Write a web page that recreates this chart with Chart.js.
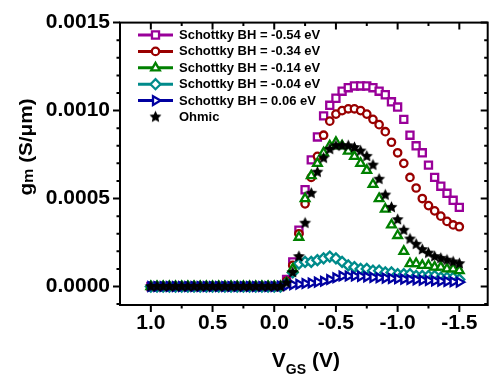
<!DOCTYPE html>
<html>
<head>
<meta charset="utf-8">
<script src="https://cdn.jsdelivr.net/npm/chart.js@4/dist/chart.umd.min.js"></script>
<style>
  body { margin: 0; background: #fff; }
  #wrap { width: 495px; height: 376px; }
</style>
</head>
<body>
<div id="wrap"><canvas id="gmChart" width="495" height="376"></canvas></div>
<script>
// gate voltage sweep, 1.0 V down to -1.5 V in 0.05 V steps
const vgs = [1.0, 0.95, 0.9, 0.85, 0.8, 0.75, 0.7, 0.65, 0.6, 0.55, 0.5, 0.45, 0.4, 0.35, 0.3, 0.25, 0.2, 0.15, 0.1, 0.05,
             0.0, -0.05, -0.1, -0.15, -0.2, -0.25, -0.3, -0.35, -0.4, -0.45, -0.5, -0.55, -0.6, -0.65, -0.7, -0.75,
             -0.8, -0.85, -0.9, -0.95, -1.0, -1.05, -1.1, -1.15, -1.2, -1.25, -1.3, -1.35, -1.4, -1.45, -1.5];

const seriesNames = ['Schottky BH = -0.54 eV', 'Schottky BH = -0.34 eV', 'Schottky BH = -0.14 eV',
                     'Schottky BH = -0.04 eV', 'Schottky BH = 0.06 eV', 'Ohmic'];

const gmBH054 = [0, 0, 0, 0, 0, 0, 0, 0, 0, 0, 0, 0, 0, 0, 0, 0, 0, 0, 0, 0, 0, 0,
  0.00004, 0.00014, 0.00032, 0.00055, 0.00072, 0.00085, 0.00097, 0.00103, 0.00107, 0.00111, 0.00113, 0.00114,
  0.00114, 0.00114, 0.00113, 0.00111, 0.00109, 0.00105, 0.00102, 0.00095, 0.00086, 0.0008, 0.00076, 0.00069,
  0.00062, 0.00057, 0.00053, 0.00049, 0.00045];
const gmBH034 = [0, 0, 0, 0, 0, 0, 0, 0, 0, 0, 0, 0, 0, 0, 0, 0, 0, 0, 0, 0, 0, 0,
  0.00003, 0.00012, 0.0003, 0.00047, 0.00062, 0.00074, 0.00086, 0.00094, 0.00098, 0.001, 0.00101, 0.00101,
  0.001, 0.00098, 0.00095, 0.00092, 0.00088, 0.00082, 0.00076, 0.0007, 0.00062, 0.00056, 0.0005, 0.00046,
  0.00043, 0.0004, 0.00037, 0.00035, 0.00034];
const gmBH014 = [0, 0, 0, 0, 0, 0, 0, 0, 0, 0, 0, 0, 0, 0, 0, 0, 0, 0, 0, 0, 0, 0,
  0.00002, 0.0001, 0.00028, 0.0005, 0.00063, 0.0007, 0.00076, 0.0008, 0.00082, 0.0008, 0.00077, 0.00074,
  0.0007, 0.00066, 0.00058, 0.0005, 0.00044, 0.00035, 0.00029, 0.0002, 0.00013, 0.00013, 0.00012, 0.00012,
  0.00011, 0.00011, 0.0001, 0.0001, 0.00009];
const gmBH004 = [0, 0, 0, 0, 0, 0, 0, 0, 0, 0, 0, 0, 0, 0, 0, 0, 0, 0, 0, 0, 0, 0,
  0.00002, 0.00008, 0.00013, 0.00014, 0.00014, 0.00015, 0.00016, 0.00017, 0.00016, 0.00014, 0.00012, 0.00011,
  0.0001, 0.0001, 0.00009, 0.00009, 0.00008, 0.00008, 0.00007, 0.00007, 0.00007, 0.00006, 0.00006, 0.00006,
  0.00006, 0.00005, 0.00005, 0.00005, 0.00004];
const gmBH006 = [0, 0, 0, 0, 0, 0, 0, 0, 0, 0, 0, 0, 0, 0, 0, 0, 0, 0, 0, 0, 0, 0.000003,
  0.000006, 0.00001, 0.000013, 0.000017, 0.00002, 0.000025, 0.00003, 0.00004, 0.00005, 0.00006, 0.00006, 0.00006,
  0.000058, 0.000055, 0.000052, 0.00005, 0.000048, 0.000046, 0.000044, 0.000042, 0.00004, 0.000038, 0.000036,
  0.000034, 0.000032, 0.00003, 0.000029, 0.000027, 0.000025];
const gmOhmic = [0, 0, 0, 0, 0, 0, 0, 0, 0, 0, 0, 0, 0, 0, 0, 0, 0, 0, 0, 0, 0, 0,
  0.00002, 0.00008, 0.00017, 0.00036, 0.00053, 0.00065, 0.00073, 0.00078, 0.0008, 0.0008, 0.0008, 0.00079,
  0.00077, 0.00074, 0.00069, 0.00061, 0.00052, 0.00045, 0.00038, 0.00032, 0.00027, 0.00024, 0.00021, 0.00019,
  0.00017, 0.00016, 0.00015, 0.00014, 0.00013];

const xTicks = [1.0, 0.5, 0.0, -0.5, -1.0, -1.5];
const yTicks = [0, 0.0005, 0.001, 0.0015];

// filled star marker (the built-in 'star' is only a stroked asterisk)
function makeStar(r) {
    const c = document.createElement('canvas');
    const s = Math.ceil(r * 2) + 2;
    c.width = s; c.height = s;
    const g = c.getContext('2d');
    g.fillStyle = '#000';
    g.beginPath();
    for (let k = 0; k < 10; k++) {
        const ang = -Math.PI / 2 + k * Math.PI / 5;
        const rr = k % 2 === 0 ? r : r * 0.48;
        g.lineTo(s / 2 + rr * Math.cos(ang), s / 2 + rr * Math.sin(ang));
    }
    g.closePath();
    g.fill();
    return c;
}
const starImg = makeStar(6.3);

const toPoints = arr => arr.map((v, i) => ({ x: vgs[i], y: v }));

function lineSet(label, data, color, style, radius, rotation, order) {
    return {
        label: label,
        data: toPoints(data),
        borderColor: color,
        backgroundColor: color,
        borderWidth: 2,
        pointStyle: style,
        pointRadius: radius,
        pointRotation: rotation,
        pointBorderWidth: 2.3,
        pointBorderColor: color,
        pointBackgroundColor: '#fff',
        tension: 0,
        order: order
    };
}

const datasets = [
    lineSet(seriesNames[0], gmBH054, '#990099', 'rect', 5.0, 0, 5),
    lineSet(seriesNames[1], gmBH034, '#990000', 'circle', 3.7, 0, 4),
    lineSet(seriesNames[2], gmBH014, '#008000', 'triangle', 5.0, 0, 2),
    lineSet(seriesNames[3], gmBH004, '#008b8b', 'rectRot', 5.0, 0, 3),
    lineSet(seriesNames[4], gmBH006, '#0000a0', 'triangle', 5.0, 90, 1),
    {
        label: seriesNames[5],
        data: toPoints(gmOhmic),
        showLine: false,
        borderColor: '#000',
        backgroundColor: '#000',
        pointStyle: starImg,
        pointRadius: 6,
        order: 0
    }
];

const frameAndTicks = {
    id: 'frameAndTicks',
    afterDraw(chart) {
        const { ctx, chartArea: a, scales: { x, y } } = chart;
        ctx.save();
        ctx.strokeStyle = '#000';
        ctx.lineWidth = 2;
        ctx.strokeRect(a.left, a.top, a.right - a.left, a.bottom - a.top);
        ctx.beginPath();
        // y ticks every 0.0001, major every 0.0005
        for (let k = -1; k <= 15; k++) {
            const py = y.getPixelForValue(k * 0.0001);
            if (py < a.top - 0.5 || py > a.bottom + 0.5) continue;
            const len = k % 5 === 0 ? 7 : 3.5;
            ctx.moveTo(a.left, py); ctx.lineTo(a.left - len, py);
            ctx.moveTo(a.right, py); ctx.lineTo(a.right - len, py);
        }
        // x ticks every 0.25, major every 0.5
        for (let k = -7; k <= 5; k++) {
            const px = x.getPixelForValue(k * 0.25);
            if (px < a.left + 1 || px > a.right - 1) continue;
            const len = k % 2 === 0 ? 7 : 3.5;
            ctx.moveTo(px, a.bottom); ctx.lineTo(px, a.bottom + len);
            ctx.moveTo(px, a.top); ctx.lineTo(px, a.top + len);
        }
        ctx.stroke();

        // axis titles with subscripts
        ctx.fillStyle = '#000';
        ctx.textBaseline = 'alphabetic';
        ctx.textAlign = 'left';
        const big = 'bold 21px Arial, "Liberation Sans", sans-serif';
        const small = 'bold 14px Arial, "Liberation Sans", sans-serif';
        ctx.font = big;
        const wV = ctx.measureText('V').width;
        const wRest = ctx.measureText(' (V)').width;
        ctx.font = small;
        const wGS = ctx.measureText('GS').width;
        const sx = (a.left + a.right) / 2 + 2 - (wV + wGS + wRest) / 2;
        ctx.font = big; ctx.fillText('V', sx, 367);
        ctx.font = small; ctx.fillText('GS', sx + wV, 374);
        ctx.font = big; ctx.fillText(' (V)', sx + wV + wGS, 367);

        ctx.save();
        ctx.translate(32, 147);
        ctx.rotate(-Math.PI / 2);
        ctx.scale(1.15, 1);
        const yBig = 'bold 18px Arial, "Liberation Sans", sans-serif';
        const ySmall = 'bold 14px Arial, "Liberation Sans", sans-serif';
        ctx.font = yBig;
        const wg = ctx.measureText('g').width;
        const wUnit = ctx.measureText(' (S/\u03bcm)').width;
        ctx.font = ySmall;
        const wm = ctx.measureText('m').width;
        const tx = -(wg + wm + wUnit) / 2;
        ctx.font = yBig; ctx.fillText('g', tx, 0);
        ctx.font = ySmall; ctx.fillText('m', tx + wg, 1);
        ctx.font = yBig; ctx.fillText(' (S/\u03bcm)', tx + wg + wm, 0);
        ctx.restore();

        // legend in the top-left corner of the plot
        ctx.font = 'bold 13px Arial, "Liberation Sans", sans-serif';
        ctx.textBaseline = 'middle';
        chart.data.datasets.forEach((ds, i) => {
            const ly = 35 + i * 16.4;
            if (ds.showLine !== false) {
                ctx.strokeStyle = ds.borderColor;
                ctx.lineWidth = 3;
                ctx.beginPath();
                ctx.moveTo(138, ly); ctx.lineTo(173, ly);
                ctx.stroke();
            }
            ctx.save();
            ctx.strokeStyle = ds.pointBorderColor || ds.borderColor;
            ctx.fillStyle = ds.pointBackgroundColor || ds.backgroundColor;
            ctx.lineWidth = ds.pointBorderWidth || 1;
            Chart.helpers.drawPoint(ctx, {
                pointStyle: ds.pointStyle,
                radius: ds.pointRadius,
                rotation: ds.pointRotation || 0,
                borderWidth: ds.pointBorderWidth || 1
            }, 155.5, ly);
            ctx.restore();
            ctx.fillStyle = '#000';
            ctx.fillText(ds.label, 179, ly + 0.5);
        });
        ctx.restore();
    }
};

const ctx = document.getElementById('gmChart').getContext('2d');

new Chart(ctx, {
    type: 'scatter',
    data: { datasets: datasets },
    options: {
        responsive: false,
        animation: false,
        events: [],
        layout: { padding: { top: 14, right: 2, left: 0, bottom: 0 } },
        plugins: {
            legend: { display: false },
            tooltip: { enabled: false }
        },
        scales: {
            x: {
                type: 'linear',
                reverse: true,
                min: -1.73,
                max: 1.25,
                afterBuildTicks: scale => { scale.ticks = xTicks.map(v => ({ value: v })); },
                afterFit: scale => { scale.height = 71; },
                grid: { display: false, drawTicks: false },
                border: { display: false },
                ticks: {
                    padding: 6,
                    color: '#000',
                    font: { family: 'Arial, "Liberation Sans", sans-serif', size: 21, weight: 'bold' },
                    callback: v => v.toFixed(1)
                }
            },
            y: {
                type: 'linear',
                min: -0.000105,
                max: 0.0015,
                afterBuildTicks: scale => { scale.ticks = yTicks.map(v => ({ value: v })); },
                afterFit: scale => { scale.width = 120; },
                grid: { display: false, drawTicks: false },
                border: { display: false },
                ticks: {
                    padding: 10,
                    color: '#000',
                    font: { family: 'Arial, "Liberation Sans", sans-serif', size: 21, weight: 'bold' },
                    callback: v => v.toFixed(4)
                }
            }
        }
    },
    plugins: [frameAndTicks]
});
</script>
</body>
</html>
